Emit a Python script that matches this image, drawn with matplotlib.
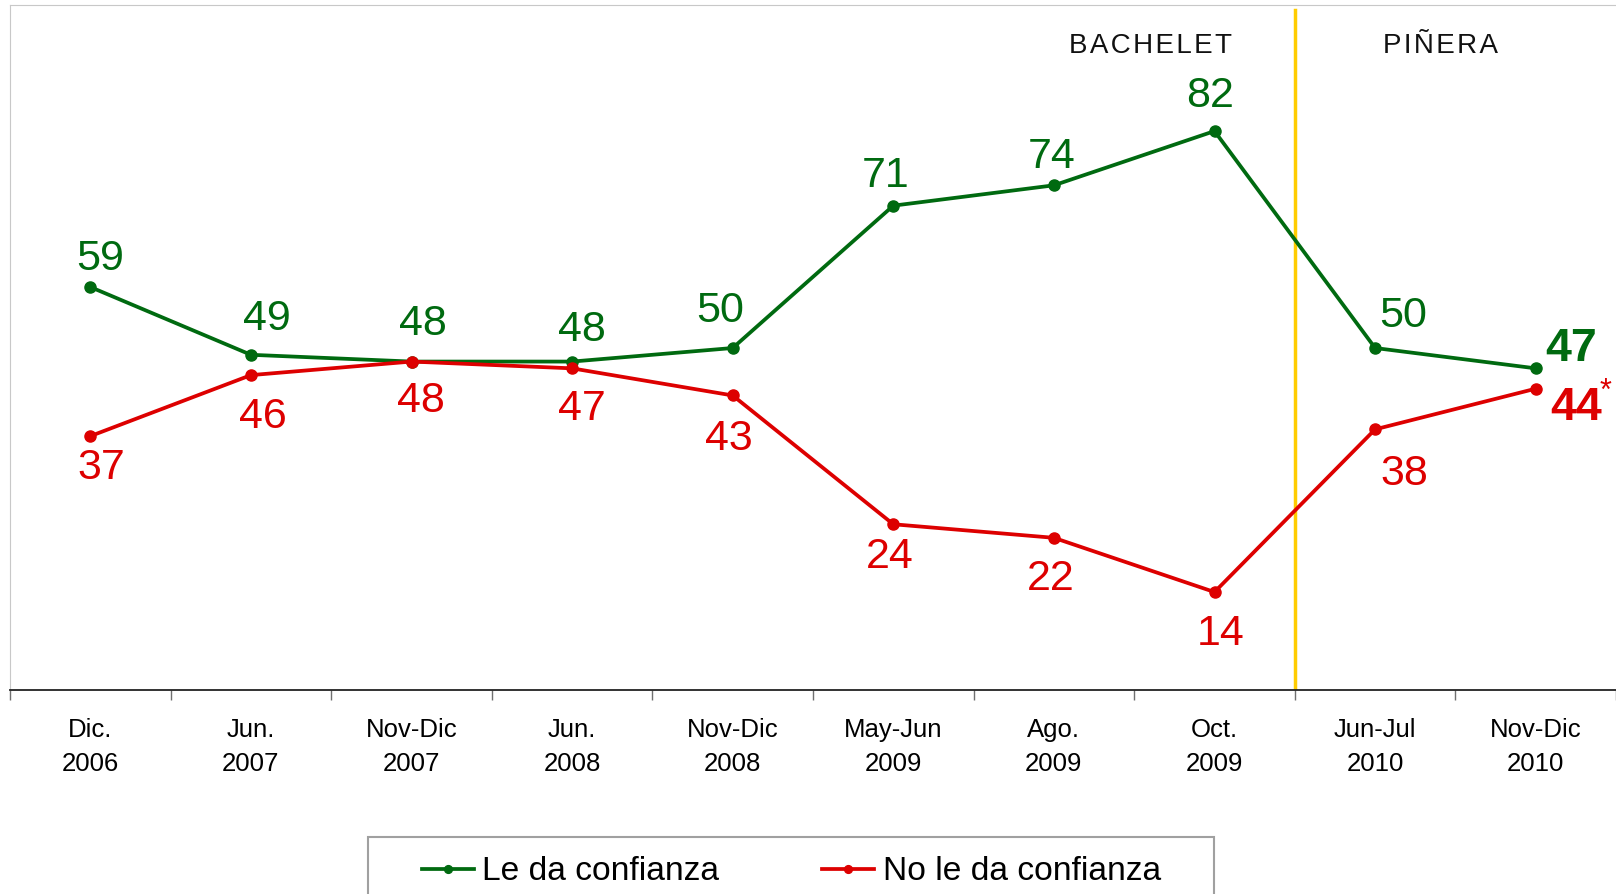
import matplotlib
matplotlib.use("Agg")
from matplotlib import pyplot as plt
from matplotlib.patches import Rectangle

plt.rcParams['font.family'] = ['Liberation Sans', 'DejaVu Sans']

# datos
periodos = ['Dic.\n2006', 'Jun.\n2007', 'Nov-Dic\n2007', 'Jun.\n2008', 'Nov-Dic\n2008',
            'May-Jun\n2009', 'Ago.\n2009', 'Oct.\n2009', 'Jun-Jul\n2010', 'Nov-Dic\n2010']
confianza = [59, 49, 48, 48, 50, 71, 74, 82, 50, 47]
no_confianza = [37, 46, 48, 47, 43, 24, 22, 14, 38, 44]

verde = '#006A10'
rojo = '#DD0000'

# desplazamiento de las etiquetas (pixeles)
off_verde = [(10, 28), (16, 36), (11, 38), (10, 32), (-13, 37), (-8, 30), (-2, 28), (-4, 35), (28, 32)]
off_rojo = [(11, -32), (12, -42), (9, -39), (10, -41), (-4, -44), (-4, -33), (-3, -41), (6, -42), (29, -45)]

fig = plt.figure(figsize=(16.16, 8.94), dpi=100)
ax = fig.add_axes([10 / 1616, 1 - 690 / 894, 1 - 10 / 1616, 685 / 894])

x = list(range(len(periodos)))
l1, = ax.plot(x, confianza, color=verde, lw=2.7, marker='o', ms=8, label='Le da confianza', zorder=3)
l2, = ax.plot(x, no_confianza, color=rojo, lw=2.7, marker='o', ms=8, label='No le da confianza', zorder=3)

for i in range(len(periodos) - 1):
    ax.annotate(str(confianza[i]), (x[i], confianza[i]), xytext=off_verde[i], textcoords='offset pixels',
                ha='center', va='center', fontsize=31, color=verde)
    ax.annotate(str(no_confianza[i]), (x[i], no_confianza[i]), xytext=off_rojo[i], textcoords='offset pixels',
                ha='center', va='center', fontsize=31, color=rojo)

# ultimo punto en negrita
ax.annotate(str(confianza[-1]), (x[-1], confianza[-1]), xytext=(35, 19), textcoords='offset pixels',
            ha='center', va='center', fontsize=33.5, fontweight='bold', color=verde)
ax.annotate(str(no_confianza[-1]), (x[-1], no_confianza[-1]), xytext=(40, -19), textcoords='offset pixels',
            ha='center', va='center', fontsize=33.5, fontweight='bold', color=rojo)
ax.annotate('*', (x[-1], no_confianza[-1]), xytext=(70, -3), textcoords='offset pixels',
            ha='center', va='center', fontsize=22, color=rojo)

# cambio de gobierno
ax.axvline(7.5, ymin=0, ymax=0.992, color='#FFCC00', lw=2.5, zorder=2)
ax.text(6.6, 94.6, 'B A C H E L E T'.replace(' ', '\u200a'), ha='center', va='center', fontsize=20, color='#111111')
ax.text(8.41, 94.5, 'P I Ñ E R A'.replace(' ', '\u200a'), ha='center', va='center', fontsize=20, color='#111111')

ax.set_xlim(-0.5, 9.5)
ax.set_ylim(-0.45, 100.6)
ax.set_yticks([])
ax.set_xticks(x)
ax.set_xticklabels(periodos, fontsize=18.5, linespacing=1.55)
ax.set_xticks([i - 0.5 for i in range(len(periodos) + 1)], minor=True)
ax.tick_params(axis='x', which='major', length=0, pad=20)
ax.tick_params(axis='x', which='minor', length=7, width=1, color='#707070', direction='out')

ax.spines['bottom'].set_color('#222222')
ax.spines['bottom'].set_linewidth(1.3)
ax.spines['left'].set_color('#C8C8C8')
ax.spines['top'].set_color('#C8C8C8')
ax.spines['right'].set_visible(False)

# leyenda
fig.patches.append(Rectangle((368 / 1616, -0.05), (1214 - 368) / 1616, 0.05 + (894 - 837) / 894,
                             transform=fig.transFigure, fill=False, edgecolor='#A0A0A0', lw=1.5))
fig.legend(handles=[l1, l2], loc='center left', bbox_to_anchor=(422 / 1616, 1 - 872 / 894),
           ncol=2, frameon=False, fontsize=24.2, handlelength=1.56, handletextpad=0.24,
           columnspacing=3.05, borderpad=0, borderaxespad=0, markerscale=0.7)

fig.savefig('out.png', dpi=100)
